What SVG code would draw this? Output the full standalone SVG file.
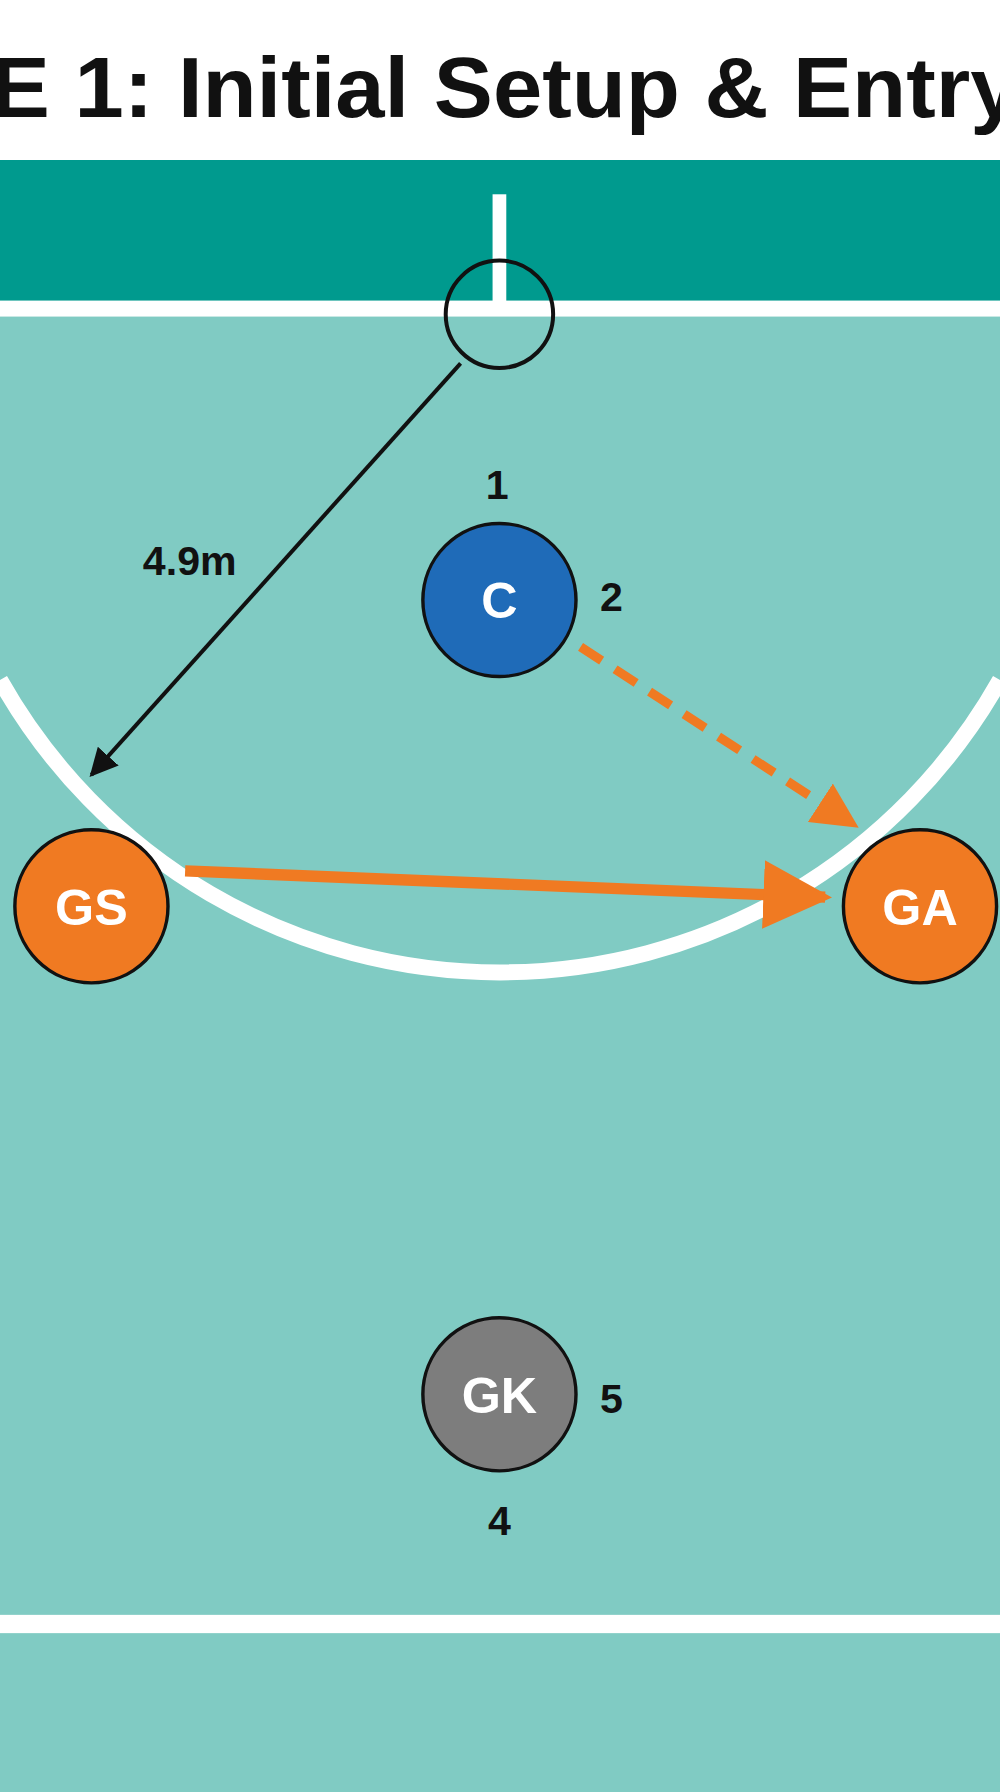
<svg xmlns="http://www.w3.org/2000/svg" width="1000" height="1792" viewBox="0 0 1000 1792">
<defs>
<style>
.lbl{font-family:"Liberation Sans",Arial,sans-serif;font-weight:bold;fill:#111;text-anchor:middle}
.nodeTxt{font-family:"Liberation Sans",Arial,sans-serif;font-weight:bold;fill:#fff;text-anchor:middle;font-size:44px}
.node{stroke:#111;stroke-width:3}
</style>
<marker id="ab" viewBox="0 0 10 10" refX="9" refY="5" markerWidth="7" markerHeight="7" orient="auto"><path d="M0,0L10,5L0,10z" fill="#111"/></marker>
<marker id="ao" viewBox="0 0 10 10" refX="9" refY="5" markerWidth="5" markerHeight="5" orient="auto"><path d="M0,0L10,5L0,10z" fill="#f07a22"/></marker>
<marker id="ao2" viewBox="0 0 10 10" refX="9" refY="5" markerWidth="6" markerHeight="6" orient="auto"><path d="M0,0L10,5L0,10z" fill="#f07a22"/></marker>
</defs>
<rect width="1000" height="1792" fill="#fff"/>
<g transform="scale(1.142857)">
<text x="-8" y="102" font-family="Liberation Sans,Arial,sans-serif" font-weight="bold" font-size="74" fill="#111" textLength="900" lengthAdjust="spacingAndGlyphs">E 1: Initial Setup &amp; Entry</text>
<rect x="0" y="140" width="875" height="125" fill="#009a8e"/>
<rect x="0" y="265" width="875" height="1303" fill="#80cbc3"/>
<rect x="0" y="263" width="875" height="14" fill="#fff"/>
<rect x="0" y="1413" width="875" height="16" fill="#fff"/>
<rect x="431" y="170" width="12" height="95" fill="#fff"/>
<path d="M 0 595 A 502 502 0 0 0 875 595" fill="none" stroke="#fff" stroke-width="14" transform="translate(0,0)"/>
<circle cx="437" cy="275" r="47" fill="none" stroke="#111" stroke-width="3.5"/>
<g id="connectors">
<line x1="403" y1="318" x2="80" y2="678" stroke="#111" stroke-width="3.5" marker-end="url(#ab)"/>
<line x1="508" y1="566" x2="748" y2="722" stroke="#f07a22" stroke-width="8" stroke-dasharray="22 14" marker-end="url(#ao)"/>
<line x1="162" y1="762" x2="722" y2="785" stroke="#f07a22" stroke-width="10" marker-end="url(#ao2)"/>
</g>
<text class="lbl" x="166" y="503" font-size="36">4.9m</text>
<g id="C"><circle class="node" cx="437" cy="525" r="67" fill="#1f6bb8"/><text class="nodeTxt" x="437" y="541">C</text></g>
<text class="lbl" x="435" y="437" font-size="36">1</text>
<text class="lbl" x="535" y="535" font-size="36">2</text>
<g id="GS"><circle class="node" cx="80" cy="793" r="67" fill="#f07a22"/><text class="nodeTxt" x="80" y="809">GS</text></g>
<g id="GA"><circle class="node" cx="805" cy="793" r="67" fill="#f07a22"/><text class="nodeTxt" x="805" y="809">GA</text></g>
<g id="GK"><circle class="node" cx="437" cy="1220" r="67" fill="#7d7d7d"/><text class="nodeTxt" x="437" y="1236">GK</text></g>
<text class="lbl" x="535" y="1236" font-size="36">5</text>
<text class="lbl" x="437" y="1343" font-size="36">4</text>
</g>
</svg>
